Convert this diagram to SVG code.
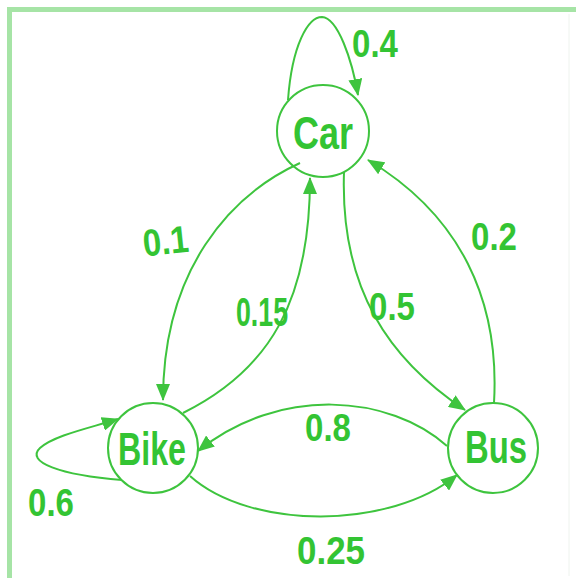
<svg xmlns="http://www.w3.org/2000/svg" width="576" height="578" viewBox="0 0 576 578">
<style>
.frame{fill:none;stroke:#a6e4a6;stroke-width:5}
.node circle{fill:none;stroke:#3ec43e;stroke-width:2}
.node text{fill:#33c433;font-family:"Liberation Sans",Arial,sans-serif;font-size:35px;font-weight:bold;text-anchor:middle}
.edge{fill:none;stroke:#3ec43e;stroke-width:2;marker-end:url(#ah)}
.lbl{fill:#33c433;font-family:"Liberation Sans",Arial,sans-serif;font-size:33px;font-weight:bold;text-anchor:middle}
</style>
<defs>
<marker id="ah" markerUnits="userSpaceOnUse" markerWidth="18" markerHeight="14" refX="16" refY="7" orient="auto">
<path d="M0,0 L17,7 L0,14 z" fill="#3ec43e"/>
</marker>
</defs>
<rect width="576" height="578" fill="#ffffff"/>
<rect class="frame" x="9.5" y="9.5" width="620" height="620"/>
<line x1="569" y1="14" x2="569" y2="576" stroke="#eef3ee" stroke-width="1"/>
<g id="connectors">
<path class="edge" d="M288,100 C292,45 308,17 322,17 C338,18 352,60 358,95"/>
<path class="edge" d="M300,163 C230,195 163,270 163,400"/>
<path class="edge" d="M183,413 C270,370 310,300 310,178"/>
<path class="edge" d="M344,172 C340,290 390,360 465,410"/>
<path class="edge" d="M494,403 C500,300 460,215 368,160"/>
<path class="edge" d="M447,446 C390,395 280,385 198,451"/>
<path class="edge" d="M190,476 C250,530 390,530 457,475"/>
<path class="edge" d="M122,480 C60,475 25,462 40,448 C55,435 90,428 118,419"/>
<text class="lbl" transform="translate(375,57) scale(1,1.15)">0.4</text>
<text class="lbl" transform="translate(167,254) rotate(-6) scale(1,1.15)">0.1</text>
<text class="lbl" transform="translate(262,326) scale(1,1.25)" textLength="52" lengthAdjust="spacingAndGlyphs">0.15</text>
<text class="lbl" transform="translate(392,320) scale(1,1.15)">0.5</text>
<text class="lbl" transform="translate(494,250) scale(1,1.15)">0.2</text>
<text class="lbl" transform="translate(328,441) scale(1,1.15)">0.8</text>
<text class="lbl" transform="translate(51,516) scale(1,1.15)">0.6</text>
<text class="lbl" transform="translate(331,564) scale(1,1.15)" textLength="68" lengthAdjust="spacingAndGlyphs">0.25</text>
</g>
<g id="car" class="node">
<circle cx="323" cy="131" r="46"/>
<text transform="translate(323,149) scale(1,1.3)" textLength="60" lengthAdjust="spacingAndGlyphs">Car</text>
</g>
<g id="bike" class="node">
<circle cx="153" cy="448" r="45"/>
<text transform="translate(152,465) scale(1,1.3)" textLength="68" lengthAdjust="spacingAndGlyphs">Bike</text>
</g>
<g id="bus" class="node">
<circle cx="493" cy="448" r="45"/>
<text transform="translate(496,463) scale(1,1.3)" textLength="62" lengthAdjust="spacingAndGlyphs">Bus</text>
</g>
</svg>
